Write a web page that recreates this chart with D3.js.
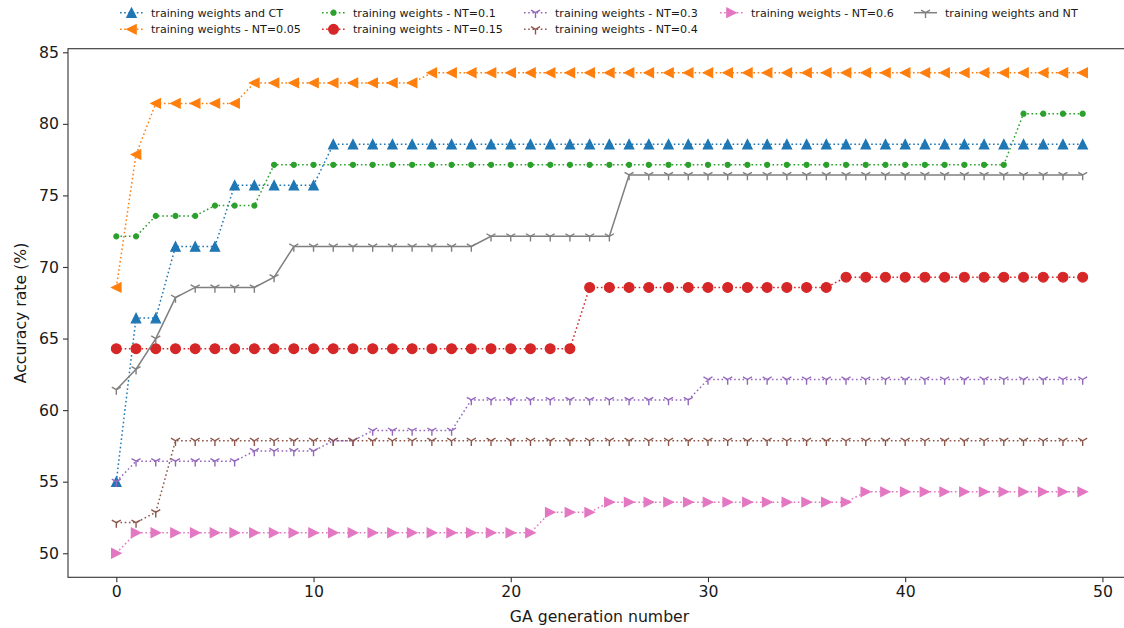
<!DOCTYPE html>
<html>
<head>
<meta charset="utf-8">
<script src="https://cdn.jsdelivr.net/npm/d3@7"></script>
<style>
  body { margin: 0; background: #fff; }
  svg { font-family: "DejaVu Sans", sans-serif; display: block; }
</style>
</head>
<body>
<svg id="chart" width="1124" height="628"></svg>
<script>
// generations 0..49
const generations = d3.range(50);

const ctValues = [55, 66.43, 66.43, 71.43, 71.43, 71.43, 75.71, 75.71, 75.71, 75.71,
  75.71, 78.57, 78.57, 78.57, 78.57, 78.57, 78.57, 78.57, 78.57, 78.57,
  78.57, 78.57, 78.57, 78.57, 78.57, 78.57, 78.57, 78.57, 78.57, 78.57,
  78.57, 78.57, 78.57, 78.57, 78.57, 78.57, 78.57, 78.57, 78.57, 78.57,
  78.57, 78.57, 78.57, 78.57, 78.57, 78.57, 78.57, 78.57, 78.57, 78.57];

const nt005Values = [68.57, 77.86, 81.43, 81.43, 81.43, 81.43, 81.43, 82.86, 82.86, 82.86,
  82.86, 82.86, 82.86, 82.86, 82.86, 82.86, 83.57, 83.57, 83.57, 83.57,
  83.57, 83.57, 83.57, 83.57, 83.57, 83.57, 83.57, 83.57, 83.57, 83.57,
  83.57, 83.57, 83.57, 83.57, 83.57, 83.57, 83.57, 83.57, 83.57, 83.57,
  83.57, 83.57, 83.57, 83.57, 83.57, 83.57, 83.57, 83.57, 83.57, 83.57];

const nt01Values = [72.14, 72.14, 73.57, 73.57, 73.57, 74.29, 74.29, 74.29, 77.14, 77.14,
  77.14, 77.14, 77.14, 77.14, 77.14, 77.14, 77.14, 77.14, 77.14, 77.14,
  77.14, 77.14, 77.14, 77.14, 77.14, 77.14, 77.14, 77.14, 77.14, 77.14,
  77.14, 77.14, 77.14, 77.14, 77.14, 77.14, 77.14, 77.14, 77.14, 77.14,
  77.14, 77.14, 77.14, 77.14, 77.14, 77.14, 80.71, 80.71, 80.71, 80.71];

const nt015Values = [64.29, 64.29, 64.29, 64.29, 64.29, 64.29, 64.29, 64.29, 64.29, 64.29,
  64.29, 64.29, 64.29, 64.29, 64.29, 64.29, 64.29, 64.29, 64.29, 64.29,
  64.29, 64.29, 64.29, 64.29, 68.57, 68.57, 68.57, 68.57, 68.57, 68.57,
  68.57, 68.57, 68.57, 68.57, 68.57, 68.57, 68.57, 69.29, 69.29, 69.29,
  69.29, 69.29, 69.29, 69.29, 69.29, 69.29, 69.29, 69.29, 69.29, 69.29];

const nt03Values = [55, 56.43, 56.43, 56.43, 56.43, 56.43, 56.43, 57.14, 57.14, 57.14,
  57.14, 57.86, 57.86, 58.57, 58.57, 58.57, 58.57, 58.57, 60.71, 60.71,
  60.71, 60.71, 60.71, 60.71, 60.71, 60.71, 60.71, 60.71, 60.71, 60.71,
  62.14, 62.14, 62.14, 62.14, 62.14, 62.14, 62.14, 62.14, 62.14, 62.14,
  62.14, 62.14, 62.14, 62.14, 62.14, 62.14, 62.14, 62.14, 62.14, 62.14];

const nt04Values = [52.14, 52.14, 52.86, 57.86, 57.86, 57.86, 57.86, 57.86, 57.86, 57.86,
  57.86, 57.86, 57.86, 57.86, 57.86, 57.86, 57.86, 57.86, 57.86, 57.86,
  57.86, 57.86, 57.86, 57.86, 57.86, 57.86, 57.86, 57.86, 57.86, 57.86,
  57.86, 57.86, 57.86, 57.86, 57.86, 57.86, 57.86, 57.86, 57.86, 57.86,
  57.86, 57.86, 57.86, 57.86, 57.86, 57.86, 57.86, 57.86, 57.86, 57.86];

const nt06Values = [50, 51.43, 51.43, 51.43, 51.43, 51.43, 51.43, 51.43, 51.43, 51.43,
  51.43, 51.43, 51.43, 51.43, 51.43, 51.43, 51.43, 51.43, 51.43, 51.43,
  51.43, 51.43, 52.86, 52.86, 52.86, 53.57, 53.57, 53.57, 53.57, 53.57,
  53.57, 53.57, 53.57, 53.57, 53.57, 53.57, 53.57, 53.57, 54.29, 54.29,
  54.29, 54.29, 54.29, 54.29, 54.29, 54.29, 54.29, 54.29, 54.29, 54.29];

const ntValues = [61.43, 62.86, 65, 67.86, 68.57, 68.57, 68.57, 68.57, 69.29, 71.43,
  71.43, 71.43, 71.43, 71.43, 71.43, 71.43, 71.43, 71.43, 71.43, 72.14,
  72.14, 72.14, 72.14, 72.14, 72.14, 72.14, 76.43, 76.43, 76.43, 76.43,
  76.43, 76.43, 76.43, 76.43, 76.43, 76.43, 76.43, 76.43, 76.43, 76.43,
  76.43, 76.43, 76.43, 76.43, 76.43, 76.43, 76.43, 76.43, 76.43, 76.43];

const seriesNames = ["training weights and CT", "training weights - NT=0.05", "training weights - NT=0.1",
  "training weights - NT=0.15", "training weights - NT=0.3", "training weights - NT=0.4",
  "training weights - NT=0.6", "training weights and NT"];
const seriesValues = [ctValues, nt005Values, nt01Values, nt015Values, nt03Values, nt04Values, nt06Values, ntValues];

const xTicks = [0, 10, 20, 30, 40, 50];
const yTicks = [50, 55, 60, 65, 70, 75, 80, 85];

// looks per series
const colors = ["#1f77b4", "#ff7f0e", "#2ca02c", "#d62728", "#9467bd", "#8c564b", "#e377c2", "#7f7f7f"];
const markers = ["up", "left", "dot", "circle", "tri", "tri", "right", "tri"];
const dashes = [":", ":", ":", ":", ":", ":", ":", "-"];

const svg = d3.select("#chart");
const margin = {left: 68, top: 48.7, right: 1131, bottom: 577.3};

const x = d3.scaleLinear().domain([-2.45, 51.45]).range([margin.left, margin.right]);
const y = d3.scaleLinear().domain([48.32, 85.25]).range([margin.bottom, margin.top]);

function markerPath(kind) {
    const s = 4.7;
    if (kind === "up") return `M0,${-s}L${s},${s}L${-s},${s}Z`;
    if (kind === "left") return `M${-s},0L${s},${-s}L${s},${s}Z`;
    if (kind === "right") return `M${s},0L${-s},${-s}L${-s},${s}Z`;
    if (kind === "tri") {
        const r = 5.2;
        return `M0,0L0,${r}M0,0L${-0.866 * r},${-0.5 * r}M0,0L${0.866 * r},${-0.5 * r}`;
    }
    return null;
}

function drawMarker(g, kind, color) {
    if (kind === "circle") {
        g.append("circle").attr("r", 4.9).attr("fill", color).attr("stroke", color).attr("stroke-width", 1.2);
    } else if (kind === "dot") {
        g.append("circle").attr("r", 2.5).attr("fill", color).attr("stroke", color).attr("stroke-width", 1.2);
    } else if (kind === "tri") {
        g.append("path").attr("d", markerPath(kind)).attr("fill", "none").attr("stroke", color).attr("stroke-width", 1.4);
    } else {
        g.append("path").attr("d", markerPath(kind)).attr("fill", color).attr("stroke", color)
            .attr("stroke-width", 1.2).attr("stroke-linejoin", "miter");
    }
}

const line = d3.line().x((d, i) => x(generations[i])).y(d => y(d));

const plot = svg.append("g");
seriesValues.forEach((vals, k) => {
    plot.append("path")
        .attr("d", line(vals))
        .attr("fill", "none")
        .attr("stroke", colors[k])
        .attr("stroke-width", 1.5)
        .attr("stroke-dasharray", dashes[k] === ":" ? "1.6,2.6" : null);
    vals.forEach((v, i) => {
        const g = plot.append("g").attr("transform", `translate(${x(generations[i])},${y(v)})`);
        drawMarker(g, markers[k], colors[k]);
    });
});

// axes
const xAxis = d3.axisBottom(x).tickValues(xTicks).tickSize(5).tickPadding(4).tickFormat(d3.format("d"));
const yAxis = d3.axisLeft(y).tickValues(yTicks).tickSize(5).tickPadding(4).tickFormat(d3.format("d"));

const gx = svg.append("g").attr("transform", `translate(0,${margin.bottom})`).call(xAxis);
const gy = svg.append("g").attr("transform", `translate(${margin.left},0)`).call(yAxis);
[gx, gy].forEach(g => {
    g.select(".domain").remove();
    g.selectAll(".tick line").attr("stroke", "#333").attr("stroke-width", 1.1);
    g.selectAll(".tick text").attr("fill", "#1a1a1a").style("font-size", "15.7px")
        .style("font-family", "'DejaVu Sans', sans-serif");
});

// spines
svg.append("rect")
    .attr("x", margin.left).attr("y", margin.top)
    .attr("width", margin.right - margin.left).attr("height", margin.bottom - margin.top)
    .attr("fill", "none").attr("stroke", "#333").attr("stroke-width", 1.1);

svg.append("text")
    .attr("x", (margin.left + margin.right) / 2).attr("y", 622)
    .attr("text-anchor", "middle").attr("fill", "#1a1a1a").style("font-size", "15.7px")
    .text("GA generation number");

svg.append("text")
    .attr("transform", `translate(25.5,${(margin.top + margin.bottom) / 2}) rotate(-90)`)
    .attr("text-anchor", "middle").attr("fill", "#1a1a1a").style("font-size", "15.7px")
    .text("Accuracy rate (%)");

// legend, 5 columns: first three columns hold two entries, the last two hold one
const legendCols = [151, 353, 555, 751, 945];
const legendRows = [12.7, 29.3];
const legendSlot = [[0, 0], [0, 1], [1, 0], [1, 1], [2, 0], [2, 1], [3, 0], [4, 0]];
const legend = svg.append("g");
seriesNames.forEach((name, k) => {
    const [col, row] = legendSlot[k];
    const tx = legendCols[col], ty = legendRows[row];
    const item = legend.append("g");
    item.append("line")
        .attr("x1", tx - 31).attr("x2", tx - 8).attr("y1", ty).attr("y2", ty)
        .attr("stroke", colors[k]).attr("stroke-width", 1.5)
        .attr("stroke-dasharray", dashes[k] === ":" ? "1.6,2.6" : null);
    drawMarker(item.append("g").attr("transform", `translate(${tx - 19.5},${ty})`), markers[k], colors[k]);
    item.append("text")
        .attr("x", tx).attr("y", ty).attr("dy", "0.35em")
        .attr("fill", "#1a1a1a").style("font-size", "11.1px")
        .text(name);
});
</script>
</body>
</html>
